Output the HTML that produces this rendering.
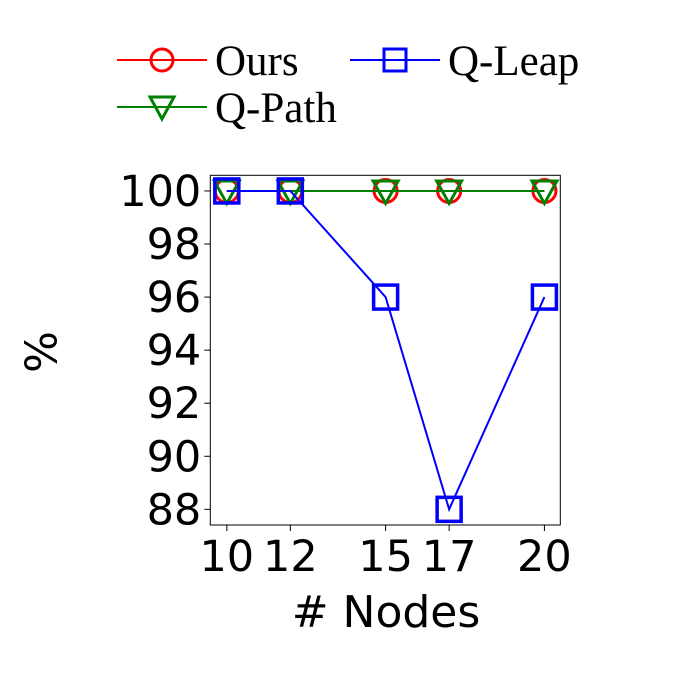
<!DOCTYPE html>
<html><head><meta charset="utf-8"><style>
html,body{margin:0;padding:0;background:#fff;}
svg{display:block;}
</style></head><body>
<svg id="chart" width="700" height="700" viewBox="0 0 700 700" xmlns="http://www.w3.org/2000/svg">
<rect width="700" height="700" fill="#fff"/>
<g id="legend">
  <g>
    <line x1="117" y1="60" x2="207" y2="60" stroke="red" stroke-width="2"/>
    <circle cx="162" cy="60" r="11" fill="none" stroke="red" stroke-width="3"/>
    <text x="215" y="75" font-family="Liberation Serif, serif" font-size="43" fill="#000">Ours</text>
  </g>
  <g>
    <line x1="350" y1="60" x2="440" y2="60" stroke="blue" stroke-width="2"/>
    <rect x="384" y="49" width="22" height="22" fill="none" stroke="blue" stroke-width="3"/>
    <text x="448" y="75" font-family="Liberation Serif, serif" font-size="43" fill="#000">Q-Leap</text>
  </g>
  <g>
    <line x1="117" y1="107" x2="207" y2="107" stroke="green" stroke-width="2"/>
    <polygon points="150,97 174,97 162,119" fill="none" stroke="green" stroke-width="3"/>
    <text x="215" y="122" font-family="Liberation Serif, serif" font-size="43" fill="#000">Q-Path</text>
  </g>
</g>
<g id="plot"></g>
<text x="42" y="352" transform="rotate(-90 42 352)" text-anchor="middle" dominant-baseline="central" font-family="DejaVu Sans, sans-serif" font-size="44" fill="#000">%</text>
<text x="386" y="627" text-anchor="middle" font-family="DejaVu Sans, sans-serif" font-size="44" fill="#000"># Nodes</text>
</svg>
<script>
const categories = [10, 12, 15, 17, 20];
const oursValues = [100, 100, 100, 100, 100];
const qLeapValues = [100, 100, 96, 88, 96];
const qPathValues = [100, 100, 100, 100, 100];
const yTicks = [88, 90, 92, 94, 96, 98, 100];
const xTickLabels = ["10", "12", "15", "17", "20"];

const NS = "http://www.w3.org/2000/svg";
const L = 210.3, R = 560.3, T = 175.3, B = 525;
const xMin = 9.48, xMax = 20.5, yMin = 87.41, yMax = 100.59;
function xs(v){ return L + (v - xMin) / (xMax - xMin) * (R - L); }
function ys(v){ return B - (v - yMin) / (yMax - yMin) * (B - T); }
const plot = document.getElementById('plot');
function mk(tag, attrs, parent){
  const e = document.createElementNS(NS, tag);
  for (const k in attrs) e.setAttribute(k, attrs[k]);
  (parent || plot).appendChild(e);
  return e;
}
yTicks.forEach(t => {
  const y = ys(t);
  const tk = mk('line', {x1: L - 6, y1: y, x2: L, y2: y, stroke: '#000', 'stroke-width': 1});
  
  
  const tx = mk('text', {x: L - 9, y: y + 15, 'text-anchor': 'end', 'font-family': 'DejaVu Sans, sans-serif', 'font-size': 43, fill: '#000'});
  tx.textContent = t;
  
  
});
categories.forEach((c, i) => {
  const x = xs(c);
  const tk = mk('line', {x1: x, y1: B, x2: x, y2: B + 6, stroke: '#000', 'stroke-width': 1});
  
  
  const tx = mk('text', {x: x, y: B + 46, 'text-anchor': 'middle', 'font-family': 'DejaVu Sans, sans-serif', 'font-size': 43, fill: '#000'});
  tx.textContent = xTickLabels[i];
  
  
});
function series(vals, color, marker, name){
  const g = mk('g', {});
  
  
  const pts = categories.map((c, i) => xs(c) + ',' + ys(vals[i])).join(' ');
  const pl = mk('polyline', {points: pts, fill: 'none', stroke: color, 'stroke-width': 2}, g);
  
  
  categories.forEach((c, i) => {
    const x = xs(c), y = ys(vals[i]);
    let m;
    if (marker === 'circle') m = mk('circle', {cx: x, cy: y, r: 11.5, fill: 'none', stroke: color, 'stroke-width': 3}, g);
    else if (marker === 'square') m = mk('rect', {x: x - 12, y: y - 12, width: 24, height: 24, fill: 'none', stroke: color, 'stroke-width': 3.5}, g);
    else m = mk('polygon', {points: (x-12.5)+','+(y-10)+' '+(x+12.5)+','+(y-10)+' '+x+','+(y+12.5), fill: 'none', stroke: color, 'stroke-width': 3}, g);
    
    
  });
}
series(oursValues, 'red', 'circle', 'ours-series');
series(qPathValues, 'green', 'triangle', 'q-path-series');
series(qLeapValues, 'blue', 'square', 'q-leap-series');
const frame = mk('rect', {x: L, y: T, width: R - L, height: B - T, fill: 'none', stroke: '#000', 'stroke-width': 1});


</script>
</body></html>
